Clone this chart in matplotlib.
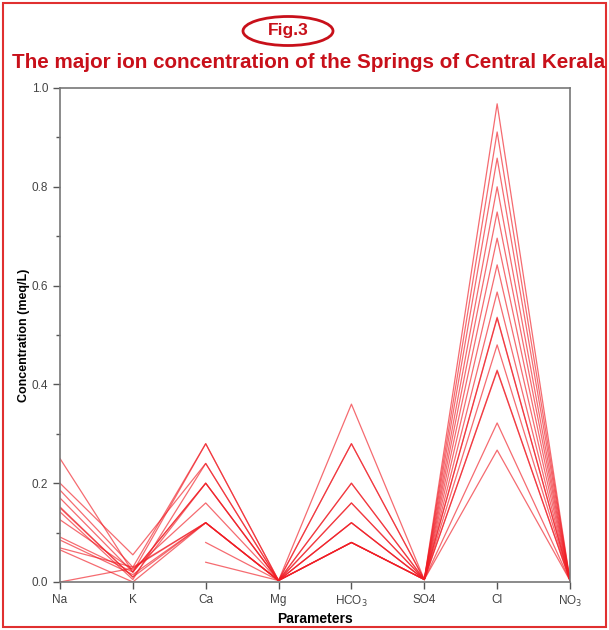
import numpy as np
import matplotlib
matplotlib.use("Agg")
import matplotlib.pyplot as plt
from matplotlib.patches import Ellipse, Rectangle

plt.rcParams['font.family'] = ['Liberation Sans', 'DejaVu Sans']

parameters = ["Na", "K", "Ca", "Mg", "HCO$_3$", "SO4", "Cl", "NO$_3$"]

nan = np.nan
Na   = [0.250, 0.200, 0.186, 0.170, 0.152, 0.142, 0.126, 0.091, 0.085, 0.069, 0.065, 0.000, 0.150, nan,  nan]
K    = [0.020, 0.055, 0.030, 0.020, 0.010, 0.005, 0.025, 0.020, 0.015, 0.030, 0.000, 0.028, 0.010, nan,  nan]
Ca   = [0.280, 0.240, 0.280, 0.200, 0.200, 0.240, 0.160, 0.200, 0.120, 0.120, 0.120, 0.120, 0.120, 0.080, 0.040]
Mg   = [0.003, 0.003, 0.003, 0.003, 0.003, 0.003, 0.003, 0.003, 0.003, 0.003, 0.003, 0.003, 0.003, 0.003, 0.003]
HCO3 = [0.360, 0.280, 0.200, 0.280, 0.160, 0.200, 0.120, 0.160, 0.120, 0.080, 0.080, 0.120, 0.080, 0.080, 0.080]
SO4  = [0.005, 0.005, 0.005, 0.005, 0.005, 0.005, 0.005, 0.005, 0.005, 0.005, 0.005, 0.005, 0.005, 0.005, 0.005]
Cl   = [0.968, 0.911, 0.858, 0.800, 0.749, 0.696, 0.642, 0.587, 0.534, 0.480, 0.427, 0.322, 0.267, 0.536, 0.429]
NO3  = [0.003, 0.003, 0.003, 0.003, 0.003, 0.003, 0.003, 0.003, 0.003, 0.003, 0.003, 0.003, 0.003, 0.003, 0.003]

data = np.array([Na, K, Ca, Mg, HCO3, SO4, Cl, NO3])

fig = plt.figure(figsize=(6.09, 6.30), dpi=100)
ax = fig.add_axes([60/609, 48/630, 510/609, 494/630])

x = np.arange(len(parameters))
for j in range(data.shape[1]):
    ax.plot(x, data[:, j], color='#f01c24', lw=0.9, alpha=0.65)

ax.set_xlim(0, len(parameters) - 1)
ax.set_ylim(0, 1.0)
ax.set_xticks(x)
ax.set_xticklabels(parameters, fontsize=8.5, color='#444444')
ax.set_yticks(np.arange(0, 1.01, 0.2))
ax.set_yticklabels([f"{v:.1f}" for v in np.arange(0, 1.01, 0.2)], fontsize=8.5, color='#444444')
ax.set_yticks(np.arange(0.1, 1.0, 0.2), minor=True)
ax.tick_params(axis='both', which='both', direction='out', color='#555555', width=1)
ax.tick_params(axis='y', which='major', length=5)
ax.tick_params(axis='y', which='minor', length=3)
ax.tick_params(axis='x', length=5)
for s in ax.spines.values():
    s.set_color('#777777')
    s.set_linewidth(1.2)

ax.set_xlabel("Parameters", fontsize=10, fontweight='bold', labelpad=2)
ax.set_ylabel("Concentration (meq/L)", fontsize=9, fontweight='bold', labelpad=1)

fig.text(309/609, 1 - 62/630, "The major ion concentration of the Springs of Central Kerala",
         ha='center', va='center', fontsize=14.9, fontweight='bold', color='#c8101a')
fig.text(288/609, 1 - 31/630, "Fig.3", ha='center', va='center', fontsize=12.5,
         fontweight='bold', color='#c8101a')
fig.patches.append(Ellipse((288/609, 1 - 31/630), 90/609, 29/630, transform=fig.transFigure,
                           fill=False, edgecolor='#c8101a', lw=2))
fig.patches.append(Rectangle((3/609, 3/630), 603/609, 624/630, transform=fig.transFigure,
                             fill=False, edgecolor='#e03030', lw=1.5))

fig.savefig("out.png", dpi=100)
